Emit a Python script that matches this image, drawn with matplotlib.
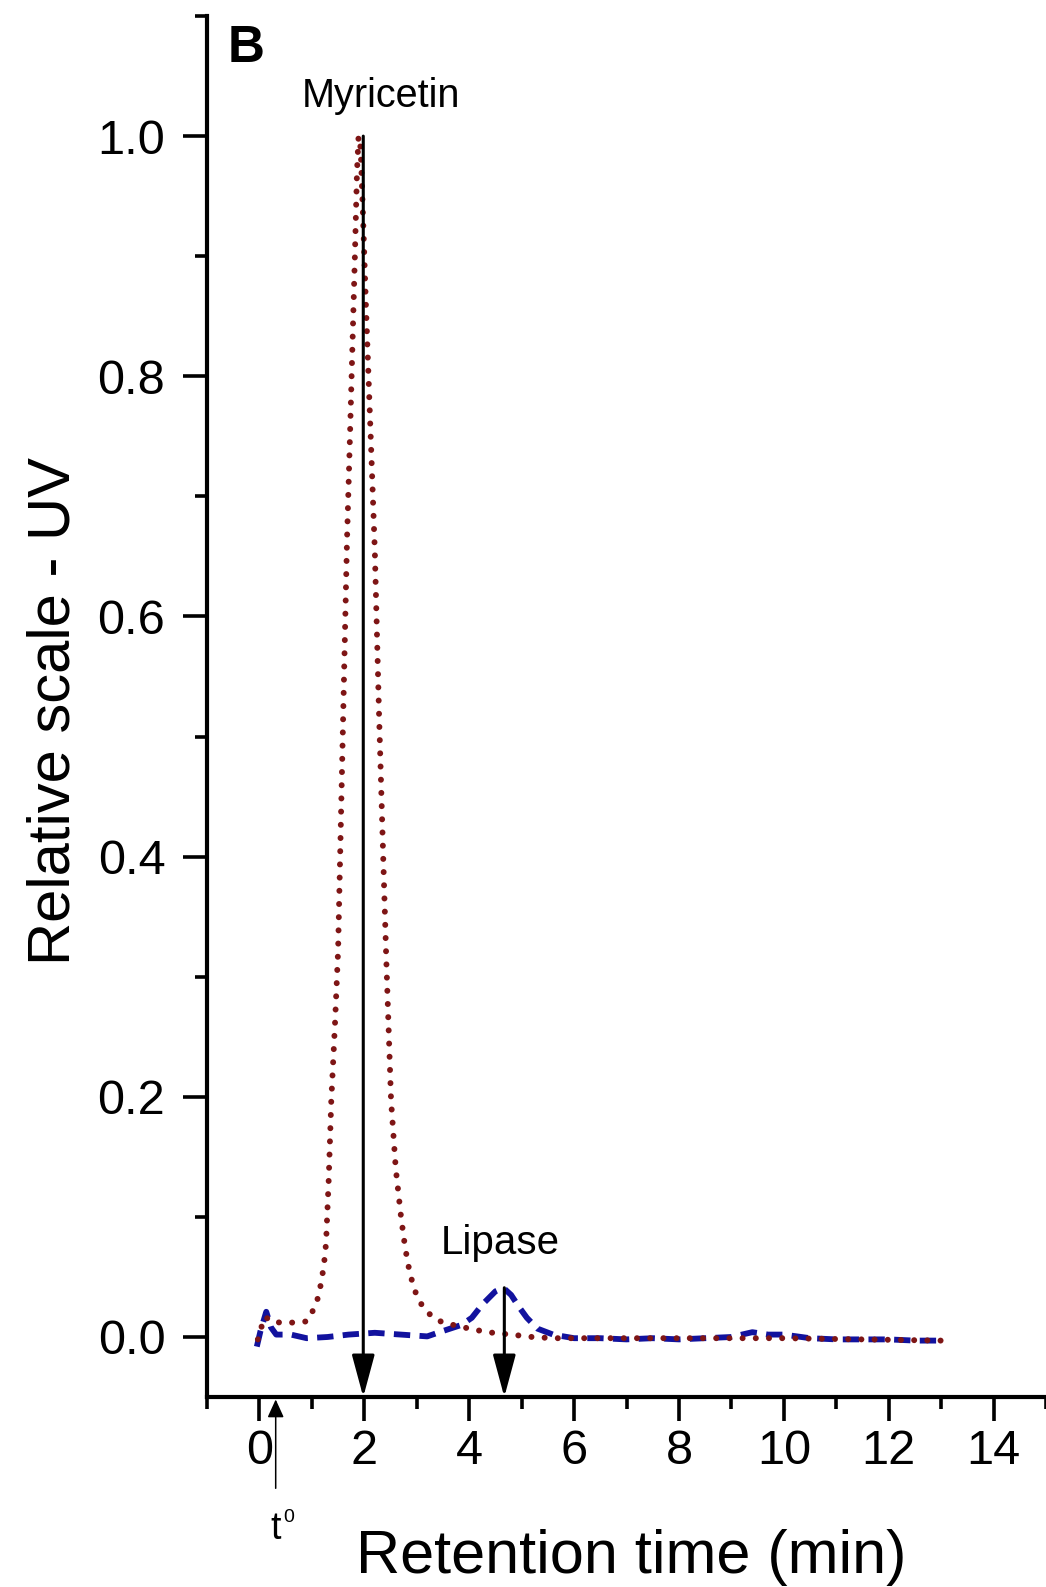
import matplotlib.pyplot as plt
from matplotlib.ticker import MultipleLocator, FormatStrFormatter

plt.rcParams['font.family'] = ['Liberation Sans', 'DejaVu Sans']

# Myricetin trace (dotted, dark red)
myr_t = [-0.03, 0.05, 0.12, 0.2, 0.4, 0.7, 0.9, 1.02, 1.12, 1.18, 1.23, 1.27,
         1.32, 1.37, 1.44, 1.50, 1.56, 1.62, 1.67, 1.72, 1.77, 1.82, 1.86, 1.89,
         1.93, 1.97, 2.03, 2.06, 2.13, 2.2, 2.28, 2.36, 2.42, 2.51, 2.6, 2.7,
         2.78, 2.86, 2.95, 3.05, 3.15, 3.32, 3.5, 3.8, 4.1, 4.45, 4.8, 5.2,
         5.6, 6.5, 8.0, 10.0, 11.5, 13.0]
myr_uv = [-0.002, 0.010, 0.017, 0.013, 0.012, 0.012, 0.013, 0.022, 0.033, 0.046, 0.060, 0.078,
          0.13, 0.197, 0.26, 0.322, 0.443, 0.564, 0.664, 0.74, 0.82, 0.90, 0.97, 1.0,
          0.99, 0.94, 0.86, 0.824, 0.74, 0.655, 0.52, 0.40, 0.313, 0.197, 0.14, 0.10,
          0.074, 0.055, 0.040, 0.030, 0.023, 0.016, 0.012, 0.009, 0.006, 0.0035, 0.002, 0.0,
          -0.001, -0.001, -0.001, -0.001, -0.002, -0.003]

# Lipase trace (dashed, navy)
lip_t = [-0.05, 0.02, 0.13, 0.22, 0.32, 0.6, 0.9, 1.3, 1.7, 2.2, 2.7, 3.2,
         3.5, 3.85, 4.05, 4.25, 4.5, 4.65, 4.8, 4.95, 5.1, 5.3, 5.6, 6.0,
         6.5, 7.0, 7.5, 8.0, 8.5, 9.0, 9.4, 9.7, 10.0, 10.5, 11.0, 11.5,
         12.0, 12.5, 13.0]
lip_uv = [-0.008, 0.005, 0.021, 0.008, 0.002, 0.002, -0.001, 0.0, 0.002, 0.0035, 0.002, 0.0005,
          0.005, 0.010, 0.016, 0.027, 0.038, 0.041, 0.035, 0.025, 0.016, 0.007, 0.002, -0.001,
          -0.001, -0.002, -0.001, -0.002, -0.001, 0.0, 0.004, 0.002, 0.002, -0.001, -0.002, -0.002,
          -0.002, -0.003, -0.003]

peak_names = ['Myricetin', 'Lipase']
peak_times = [1.98, 4.67]
peak_tops = [1.0, 0.041]
t0 = 0.31

fig = plt.figure(figsize=(10.46, 15.87), dpi=100)
ax = fig.add_axes([0.1979, 0.1197, 0.8021, 0.8702])

ax.plot(lip_t, lip_uv, color='#12129e', lw=4.2, linestyle=(0, (2.8, 1.6)))
ax.plot(myr_t, myr_uv, color='#7e1515', lw=4.3, linestyle=(0, (0.01, 2.2)),
        dash_capstyle='round')

# peak arrows down to the time axis
for t, top in zip(peak_times, peak_tops):
    ax.annotate('', xy=(t, -0.05), xytext=(t, top),
                arrowprops=dict(arrowstyle='-|>,head_length=2.6,head_width=0.7',
                                mutation_scale=10, lw=2.2, color='black',
                                shrinkA=0, shrinkB=0))

ax.text(2.32, 1.024, peak_names[0], fontsize=28.5, ha='center', va='baseline')
ax.text(4.6, 0.069, peak_names[1], fontsize=29, ha='center', va='baseline')
ax.text(-0.6, 1.062, 'B', fontsize=37, fontweight='bold', ha='left', va='baseline')

# dead time marker below the axis
ax.annotate('', xy=(t0, -0.052), xytext=(t0, -0.126),
            arrowprops=dict(arrowstyle='-|>,head_length=1.1,head_width=0.5',
                            mutation_scale=10, lw=1.1, color='black',
                            shrinkA=0, shrinkB=0),
            annotation_clip=False)
ax.text(t0, -0.168, 't', fontsize=27, ha='center', va='baseline')
ax.text(0.56, -0.154, '0', fontsize=14, ha='center', va='baseline')

ax.set_xlim(-1, 15)
ax.set_ylim(-0.05, 1.1)
ax.xaxis.set_major_locator(MultipleLocator(2))
ax.xaxis.set_minor_locator(MultipleLocator(1))
ax.yaxis.set_major_locator(MultipleLocator(0.2))
ax.yaxis.set_minor_locator(MultipleLocator(0.1))
ax.yaxis.set_major_formatter(FormatStrFormatter('%.1f'))

for side in ['top', 'right']:
    ax.spines[side].set_visible(False)
for side in ['left', 'bottom']:
    ax.spines[side].set_linewidth(3)

ax.tick_params(which='major', direction='out', length=17, width=2.6, labelsize=35)
ax.tick_params(which='minor', direction='out', length=8.5, width=2.6)
ax.tick_params(axis='x', which='major', pad=6)
ax.tick_params(axis='y', which='major', pad=13)

ax.set_xlabel('Retention time (min)', fontsize=44)
ax.xaxis.set_label_coords(0.505, -0.0956)
ax.set_ylabel('Relative scale - UV', fontsize=43)
ax.yaxis.set_label_coords(-0.150, 0.497)

fig.savefig('out.png', dpi=100)
